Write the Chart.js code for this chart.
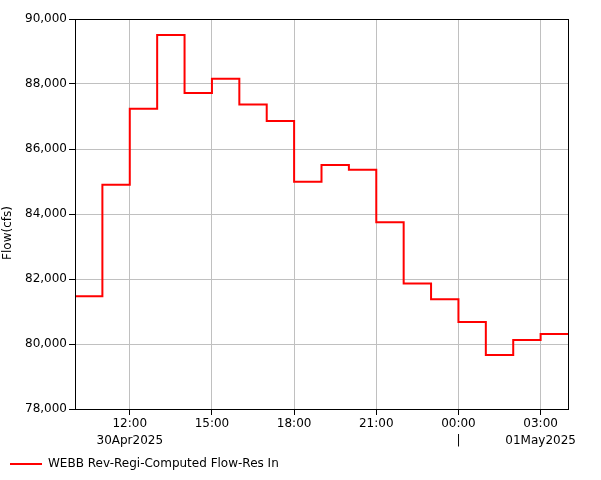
<!DOCTYPE html>
<html>
<head>
<meta charset="utf-8">
<script src="https://cdn.jsdelivr.net/npm/chart.js@4/dist/chart.umd.min.js"></script>
<style>
  html, body { margin: 0; padding: 0; background: #fff; }
  #wrap { width: 601px; height: 480px; }
</style>
</head>
<body>
<div id="wrap"><canvas id="flowChart"></canvas></div>
<script>
// hours since 30Apr2025 00:00, start of each hourly period
const periodStarts = [10, 11, 12, 13, 14, 15, 16, 17, 18, 19, 20, 21, 22, 23, 24, 25, 26, 27];
const periodEnd = 28;
const flowCfs = [81470, 84900, 87240, 89510, 87720, 88160, 87370, 86860, 84990, 85510, 85360, 83750, 81860, 81380, 80680, 79660, 80120, 80310];

const tickHours = [12, 15, 18, 21, 24, 27];
const tickLabels = [["12:00", "30Apr2025"], ["15:00"], ["18:00"], ["21:00"], ["00:00", "|"], ["03:00", "01May2025"]];
const yTicks = [78000, 80000, 82000, 84000, 86000, 88000, 90000];

const seriesName = "WEBB Rev-Regi-Computed Flow-Res In";
const yTitle = "Flow(cfs)";

const points = periodStarts.map((h, i) => ({ x: h, y: flowCfs[i] }));
points.push({ x: periodEnd, y: flowCfs[flowCfs.length - 1] });

const font = { family: "'DejaVu Sans', Verdana, sans-serif", size: 12 };
const plotBottom = 409;

// black frame round the plot + y title centred on the space above the legend line
const frameBorder = {
    id: "frameBorder",
    afterDatasetsDraw(chart) {
        const a = chart.chartArea;
        const ctx = chart.ctx;
        ctx.save();
        ctx.strokeStyle = "#000";
        ctx.lineWidth = 1;
        ctx.strokeRect(Math.round(a.left) + 0.5, Math.round(a.top) + 0.5,
            Math.round(a.right - a.left), Math.round(a.bottom - a.top));

        const midY = (chart.height - 14) / 2;
        ctx.translate(8, midY);
        ctx.rotate(-Math.PI / 2);
        ctx.fillStyle = "#000";
        ctx.font = `${font.size}px ${font.family}`;
        ctx.textAlign = "center";
        ctx.textBaseline = "middle";
        ctx.fillText(yTitle, 0, 0);
        ctx.restore();
    }
};

new Chart(document.getElementById("flowChart"), {
    type: "line",
    data: {
        datasets: [{
            label: seriesName,
            data: points,
            stepped: "before",
            borderColor: "#ff0000",
            backgroundColor: "#ff0000",
            borderWidth: 2,
            pointRadius: 0,
            fill: false
        }]
    },
    options: {
        responsive: true,
        maintainAspectRatio: false,
        animation: false,
        layout: { padding: { top: 19, right: 33, left: 0, bottom: 0 } },
        scales: {
            x: {
                type: "linear",
                min: periodStarts[0],
                max: periodEnd,
                afterBuildTicks: scale => {
                    scale.ticks = tickHours.map(v => ({ value: v }));
                },
                afterFit: scale => {
                    const c = scale.chart;
                    scale.height = c.height - c.legend.height - plotBottom;
                },
                ticks: {
                    autoSkip: false,
                    maxRotation: 0,
                    color: "#000",
                    padding: 0,
                    font: { ...font, lineHeight: 1.45 },
                    callback: v => {
                        const i = tickHours.indexOf(v);
                        return i >= 0 ? tickLabels[i] : "";
                    }
                },
                grid: { color: "#c0c0c0", tickColor: "#000", tickLength: 6, lineWidth: 1 },
                border: { color: "#000" }
            },
            y: {
                min: yTicks[0],
                max: yTicks[yTicks.length - 1],
                afterBuildTicks: scale => {
                    scale.ticks = yTicks.map(v => ({ value: v }));
                },
                afterFit: scale => { scale.width = 75; },
                ticks: {
                    color: "#000",
                    padding: 2,
                    font: font,
                    callback: v => v.toLocaleString("en-US")
                },
                grid: { color: "#c0c0c0", tickColor: "#000", tickLength: 6, lineWidth: 1 },
                border: { color: "#000" }
            }
        },
        plugins: {
            legend: {
                position: "bottom",
                align: "start",
                labels: {
                    color: "#000",
                    font: font,
                    usePointStyle: true,
                    pointStyle: "line",
                    pointStyleWidth: 32,
                    padding: 10
                }
            },
            tooltip: { enabled: false }
        }
    },
    plugins: [frameBorder]
});
</script>
</body>
</html>
